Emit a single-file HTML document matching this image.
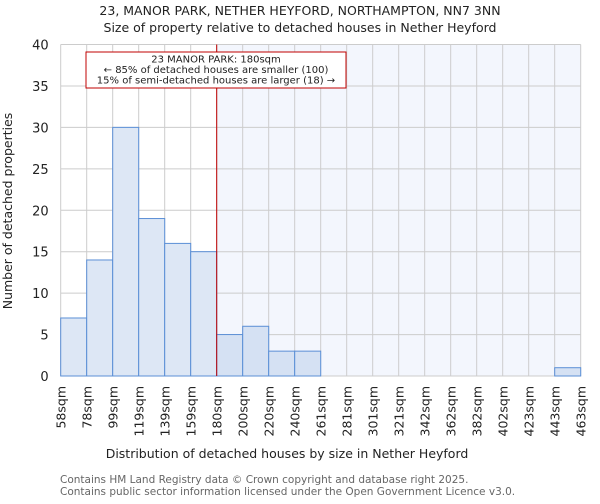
<!DOCTYPE html>
<html><head><meta charset="utf-8"><style>
body{margin:0;background:#fff;font-family:"DejaVu Sans","Liberation Sans",sans-serif;}
</style></head><body>
<svg id="chart" width="600" height="500" xmlns="http://www.w3.org/2000/svg" font-family="DejaVu Sans, Liberation Sans, sans-serif">
<text x="300" y="15" text-anchor="middle" font-size="12.5" fill="#222">23, MANOR PARK, NETHER HEYFORD, NORTHAMPTON, NN7 3NN</text>
<text x="300" y="32" text-anchor="middle" font-size="12.5" fill="#222">Size of property relative to detached houses in Nether Heyford</text>
<g id="plot"></g>
<text x="287" y="458" text-anchor="middle" font-size="12.5" fill="#222">Distribution of detached houses by size in Nether Heyford</text>
<text transform="translate(12,211) rotate(-90)" text-anchor="middle" font-size="12.5" fill="#222">Number of detached properties</text>
<text x="60" y="483" font-size="10.5" fill="#666">Contains HM Land Registry data © Crown copyright and database right 2025.</text>
<text x="60" y="495" font-size="10.5" fill="#666">Contains public sector information licensed under the Open Government Licence v3.0.</text>
</svg>
<script>
const binLabels=["58sqm","78sqm","99sqm","119sqm","139sqm","159sqm","180sqm","200sqm","220sqm","240sqm","261sqm","281sqm","301sqm","321sqm","342sqm","362sqm","382sqm","402sqm","423sqm","443sqm","463sqm"];
const counts=[7,14,30,19,16,15,5,6,3,3,0,0,0,0,0,0,0,0,0,1];
const yTicks=[0,5,10,15,20,25,30,35,40];
const markerBin=6;
const NS="http://www.w3.org/2000/svg";
const L=60.7,R=580.7,T=44.5,B=376,yMax=40;
const bw=(R-L)/counts.length;
const xs=i=>L+i*bw;
const ys=v=>B-(v/yMax)*(B-T);
const g=document.getElementById('plot');
function mk(tag,attrs){const e=document.createElementNS(NS,tag);for(const k in attrs)e.setAttribute(k,attrs[k]);g.appendChild(e);return e;}
let e=mk('rect',{x:xs(markerBin),y:T,width:R-xs(markerBin),height:B-T,fill:'#f3f6fd'});


yTicks.forEach(t=>{
 e=mk('line',{x1:L,x2:R,y1:ys(t),y2:ys(t),stroke:'#ccc','stroke-width':1});
 
 
 e=mk('text',{x:L-12,y:ys(t)+5,'text-anchor':'end','font-size':13,fill:'#222'});
 e.textContent=t;
 
 
});
binLabels.forEach((lb,i)=>{
 e=mk('line',{x1:xs(i),x2:xs(i),y1:T,y2:B,stroke:'#ccc','stroke-width':1});
 
 
 e=mk('text',{transform:`translate(${xs(i)+5},${B+10}) rotate(-90)`,'text-anchor':'end','font-size':12.5,fill:'#222'});
 e.textContent=lb;
 
 
});
counts.forEach((v,i)=>{
 if(v<=0)return;
 e=mk('rect',{x:xs(i),y:ys(v),width:bw,height:B-ys(v),fill:i>=markerBin?'#d5e1f3':'#dde7f5',stroke:'#5b8fd6','stroke-width':1});
 
 
});
e=mk('line',{x1:xs(markerBin),x2:xs(markerBin),y1:T,y2:B,stroke:'#c00000','stroke-width':1});


e=mk('rect',{x:86,y:52,width:260,height:36,fill:'#fff',stroke:'#c00000','stroke-width':1});


["23 MANOR PARK: 180sqm","← 85% of detached houses are smaller (100)","15% of semi-detached houses are larger (18) →"].forEach((s,k)=>{
 e=mk('text',{x:216,y:62.5+k*10.5,'text-anchor':'middle','font-size':10,fill:'#222'});
 e.textContent=s;
 
 
});
</script>
</body></html>
